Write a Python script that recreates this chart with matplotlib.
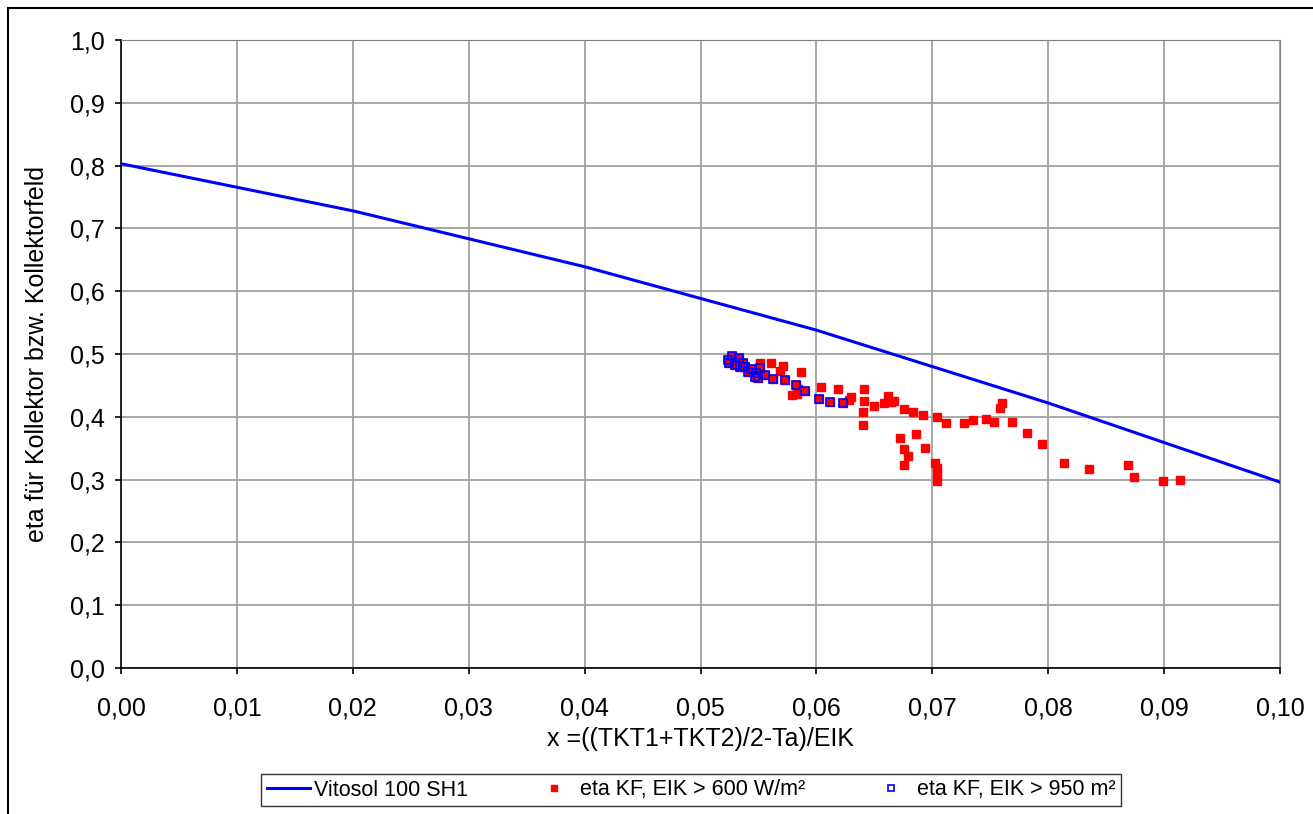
import matplotlib
matplotlib.use("Agg")
import matplotlib.pyplot as plt
from matplotlib.patches import Rectangle
from matplotlib.ticker import FuncFormatter

plt.rcParams["font.family"] = ["Liberation Sans", "DejaVu Sans"]

# Vitosol 100 SH1 reference curve
line_x = [0.00, 0.02, 0.04, 0.06, 0.08, 0.10]
line_y = [0.803, 0.728, 0.639, 0.538, 0.422, 0.296]

# eta KF, EIK > 600 W/m² (red only points)
red_x = [0.0551, 0.0561, 0.0571, 0.0569, 0.0587, 0.0579, 0.0583, 0.0584,
         0.0604, 0.0619, 0.0628, 0.0630, 0.0641, 0.0641, 0.0640, 0.0640,
         0.0650, 0.0658, 0.0662, 0.0664, 0.0667, 0.0676, 0.0683, 0.0692,
         0.0704, 0.0712, 0.0727, 0.0735, 0.0746, 0.0753, 0.0758, 0.0760,
         0.0769, 0.0782, 0.0795, 0.0814, 0.0835, 0.0869, 0.0874, 0.0899,
         0.0914, 0.0672, 0.0686, 0.0676, 0.0679, 0.0676, 0.0694, 0.0702,
         0.0704, 0.0704, 0.0704]
red_y = [0.485, 0.486, 0.481, 0.473, 0.471, 0.435, 0.437, 0.445,
         0.447, 0.444, 0.426, 0.431, 0.444, 0.425, 0.407, 0.387,
         0.417, 0.4215, 0.433, 0.424, 0.425, 0.412, 0.408, 0.403,
         0.400, 0.390, 0.390, 0.395, 0.396, 0.392, 0.4135, 0.4215,
         0.392, 0.375, 0.357, 0.327, 0.317, 0.323, 0.304, 0.298,
         0.299, 0.366, 0.372, 0.348, 0.338, 0.323, 0.351, 0.326,
         0.318, 0.307, 0.297]

# eta KF, EIK > 950 m² (also part of the red series)
blue_x = [0.05235, 0.0527, 0.0533, 0.0525, 0.0530, 0.0537, 0.0538, 0.0544,
          0.0548, 0.0551, 0.0550, 0.0556, 0.0547, 0.0534, 0.0541, 0.05628,
          0.0573, 0.0582, 0.0590, 0.0602, 0.0612, 0.0623]
blue_y = [0.490, 0.497, 0.493, 0.485, 0.482, 0.485, 0.480, 0.476,
          0.469, 0.477, 0.461, 0.467, 0.464, 0.480, 0.472, 0.460,
          0.459, 0.451, 0.4416, 0.4289, 0.424, 0.4225]

W, H = 1313, 814
fig = plt.figure(figsize=(W / 100, H / 100), dpi=100)
ax = fig.add_axes([121 / W, 1 - 668 / H, (1280 - 121) / W, (668 - 40) / H])

# outer chart frame
fig.patches.append(Rectangle((8 / W, -0.05), 1.2, 1 - 8 / H + 0.05,
                             transform=fig.transFigure, fill=False,
                             edgecolor="black", lw=1.5))

ax.plot(line_x, line_y, color="#0000ff", lw=2.2, label="Vitosol 100 SH1", zorder=3)
ax.plot(red_x + blue_x, red_y + blue_y, ls="none", marker="s", ms=5.8,
        color="#ff0000", mec="#ff0000", label="eta KF, EIK > 600 W/m²", zorder=4)
ax.plot(blue_x, blue_y, ls="none", marker="s", ms=6, mfc="none",
        mec="#0000ff", mew=1.2, label="eta KF, EIK > 950 m²", zorder=5)

ax.set_xlim(0, 0.10)
ax.set_ylim(0, 1.0)
ax.set_xticks([i / 100 for i in range(11)])
ax.set_yticks([i / 10 for i in range(11)])
ax.xaxis.set_major_formatter(FuncFormatter(lambda v, p: f"{v:.2f}".replace(".", ",")))
ax.yaxis.set_major_formatter(FuncFormatter(lambda v, p: f"{v:.1f}".replace(".", ",")))
ax.grid(True, color="#a0a0a0", lw=1.3)
ax.set_axisbelow(True)
for s in ["top", "right"]:
    ax.spines[s].set_color("#808080")
for s in ["left", "bottom"]:
    ax.spines[s].set_color("black")
    ax.spines[s].set_linewidth(1.2)
ax.tick_params(direction="out", length=4.5, width=1.2, labelsize=18)
ax.tick_params(axis="x", pad=16)
ax.tick_params(axis="y", pad=7)

ax.set_xlabel("x =((TKT1+TKT2)/2-Ta)/EIK", fontsize=18, labelpad=5)
ax.set_ylabel("eta für Kollektor bzw. Kollektorfeld", fontsize=18, labelpad=15)

leg = fig.legend(loc="center", bbox_to_anchor=(691 / W, 1 - 790 / H), ncol=3,
                 fontsize=15.5, frameon=True, fancybox=False, edgecolor="black",
                 handlelength=2.0, handletextpad=0.2, columnspacing=3.0,
                 borderpad=0.25, markerscale=0.8)
leg.get_frame().set_linewidth(1.0)

fig.savefig("out.png", dpi=100)
